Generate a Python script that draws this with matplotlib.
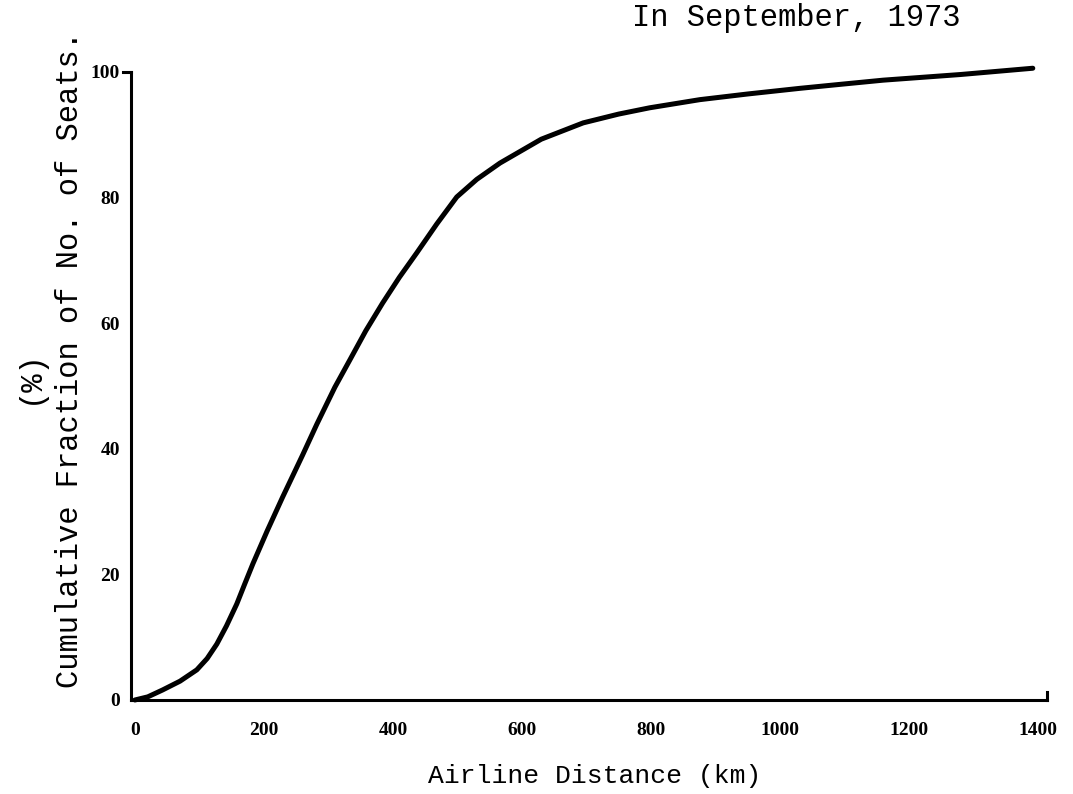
import matplotlib
matplotlib.use("Agg")
import matplotlib.pyplot as plt

# curve (km, cumulative %)
distance = [0, 20, 43, 70, 96, 112, 127, 142, 158, 170, 183, 205, 229, 260,
            282, 310, 333, 358, 384, 410, 437, 468, 499, 530, 566, 630, 695,
            750, 798, 876, 950, 1031, 1100, 1160, 1280, 1392]
cum_pct = [0, 0.5, 1.6, 3.0, 4.8, 6.6, 8.9, 11.8, 15.3, 18.4, 21.7, 26.9,
           32.3, 39.0, 43.9, 49.8, 54.1, 58.8, 63.2, 67.3, 71.2, 75.8, 80.1,
           82.9, 85.5, 89.3, 91.9, 93.3, 94.3, 95.6, 96.5, 97.4, 98.1, 98.7,
           99.6, 100.6]

xticks = [0, 200, 400, 600, 800, 1000, 1200, 1400]
yticks = [0, 20, 40, 60, 80, 100]

mono = "Liberation Mono"
serif = "Liberation Serif"

fig = plt.figure(figsize=(10.73, 7.94), dpi=100)
ax = fig.add_axes([131 / 1073, 1 - 700 / 794, (1047 - 131) / 1073, (700 - 72) / 794])

ax.plot(distance, cum_pct, color="black", lw=3.6, solid_capstyle="round",
        solid_joinstyle="round", clip_on=False)

ax.set_xlim(-6, 1414)
ax.set_ylim(0, 100)
for s in ["top", "right"]:
    ax.spines[s].set_visible(False)
for s in ["left", "bottom"]:
    ax.spines[s].set_linewidth(2.2)

# small end marks on the axes like the original drawing
ax.plot([-18, -6], [100, 100], color="black", lw=2.2, clip_on=False)
ax.plot([1414, 1414], [0, 1.3], color="black", lw=2.2, clip_on=False)

ax.set_xticks(xticks)
ax.set_yticks(yticks)
ax.tick_params(length=0)
ax.tick_params(axis="x", pad=16)
ax.tick_params(axis="y", pad=8)
for lab in ax.get_xticklabels() + ax.get_yticklabels():
    lab.set_fontfamily(serif)
    lab.set_fontweight("bold")
    lab.set_fontsize(14)

fig.text(70 / 1073, 1 - 360 / 794, "Cumulative Fraction of No. of Seats.",
         rotation=90, ha="center", va="center", family=mono, fontsize=22)
fig.text(30 / 1073, 1 - 377 / 794, "(%)", rotation=90, ha="center",
         va="center", family=mono, fontsize=22)
fig.text(595 / 1073, 1 - 776 / 794, "Airline Distance (km)", ha="center",
         va="center", family=mono, fontsize=19)
fig.text(796 / 1073, 1 - 18 / 794, "In September, 1973", ha="center",
         va="center", family=mono, fontsize=22)

fig.savefig("out.png", dpi=100, facecolor="white")
